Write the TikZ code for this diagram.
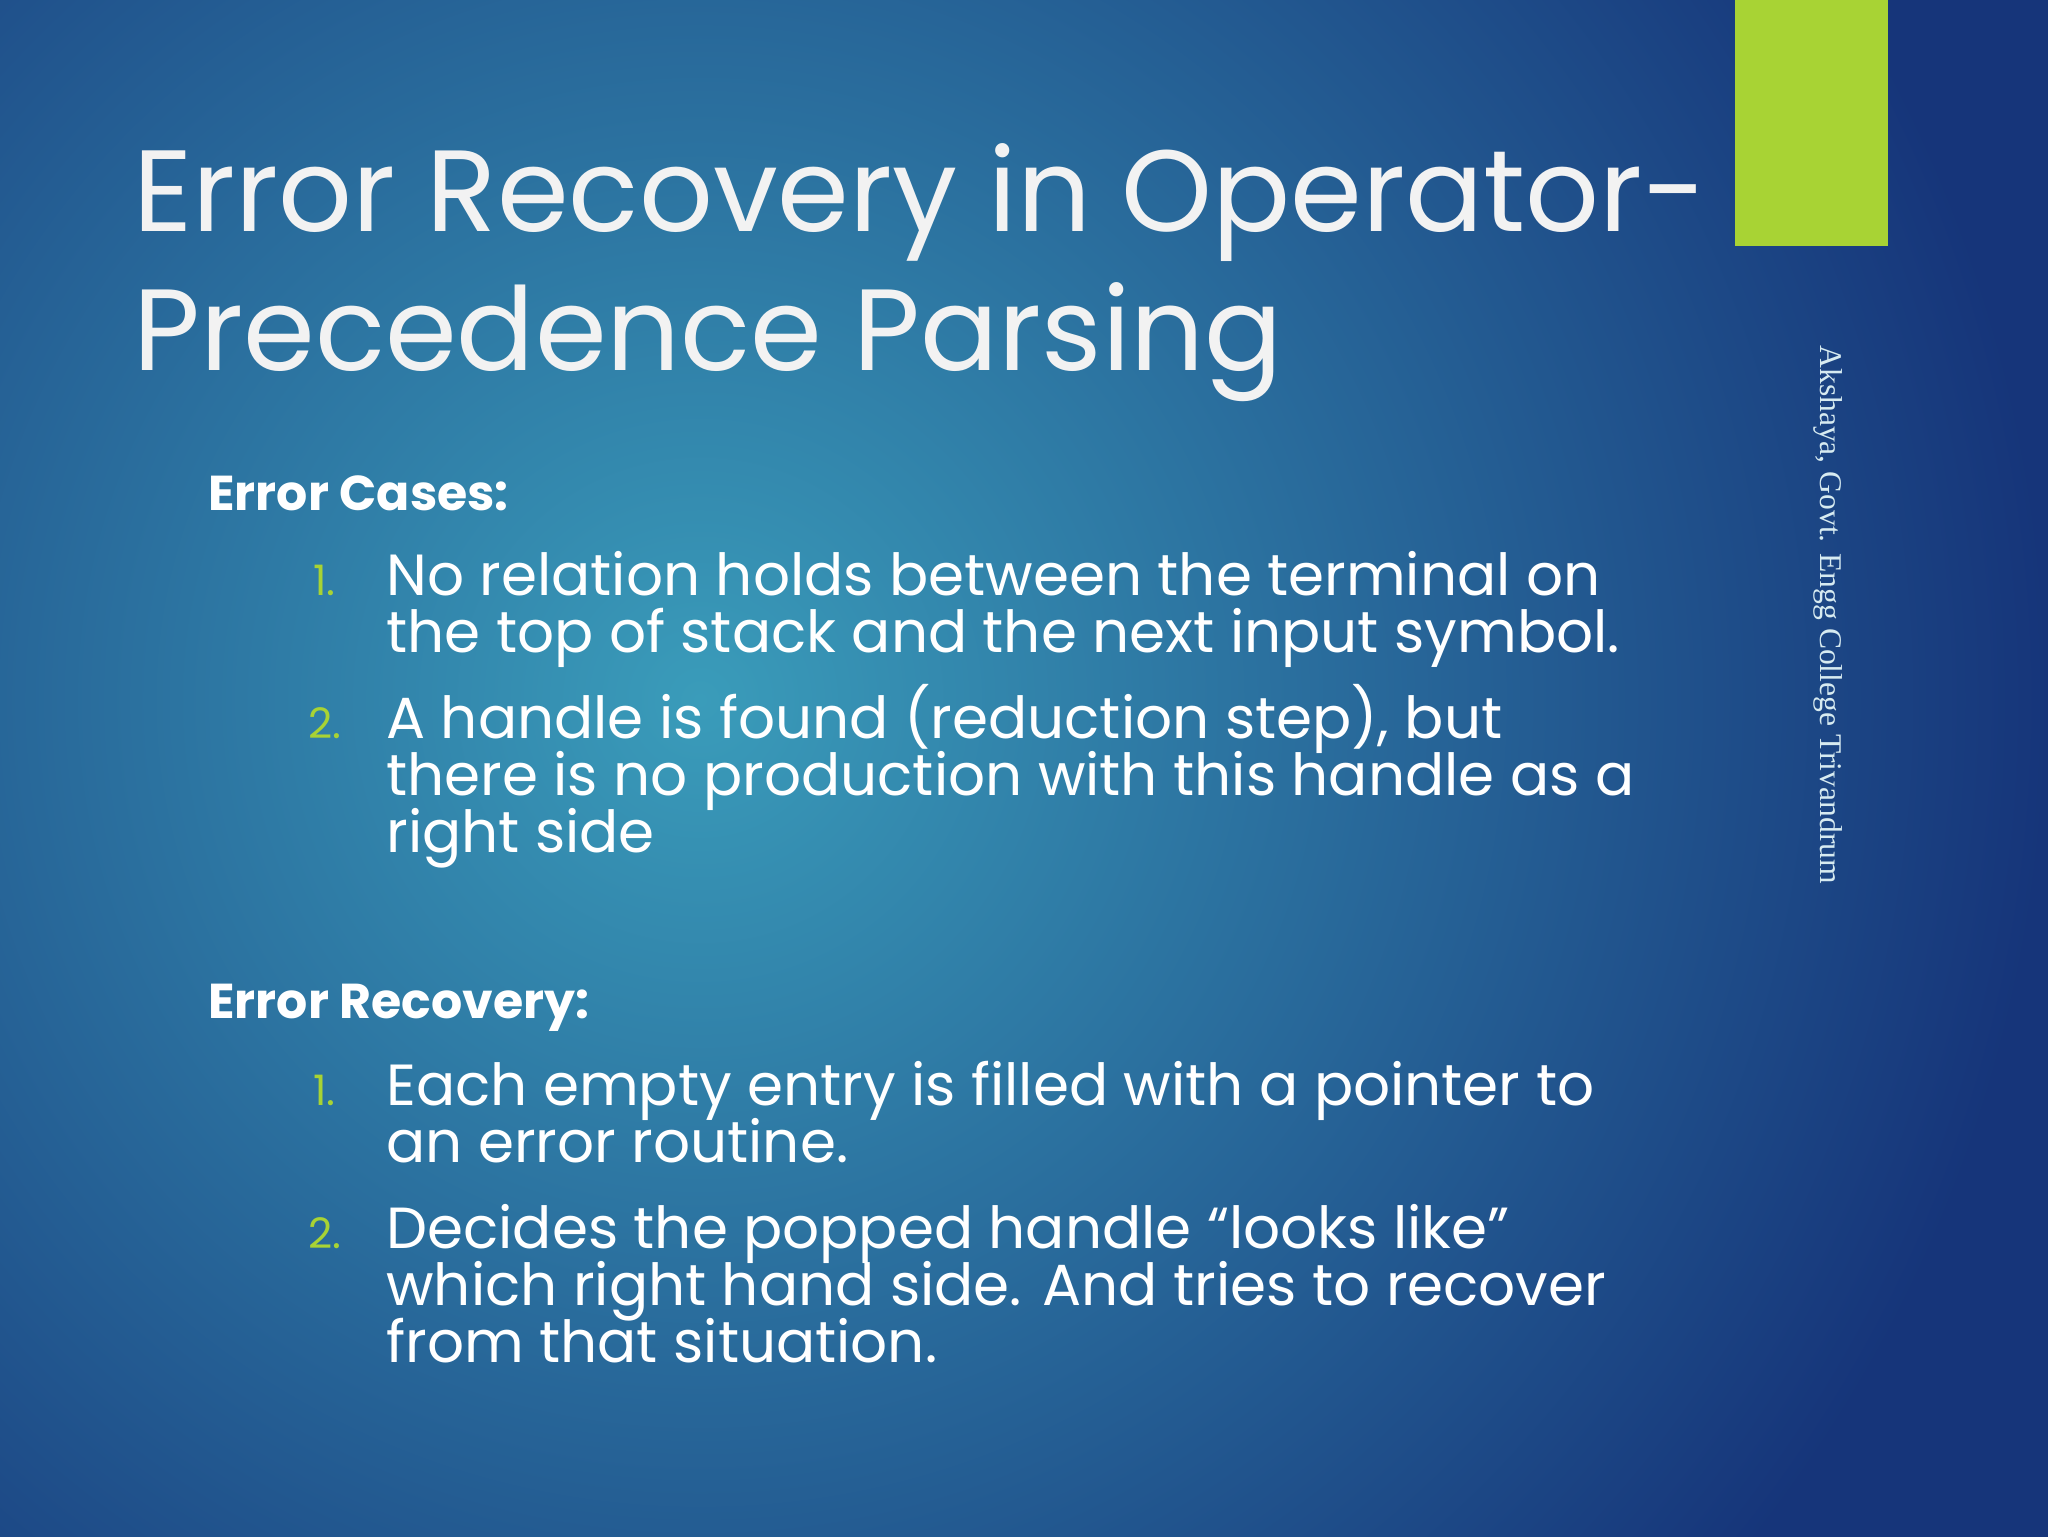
\documentclass[tikz,border=0pt]{standalone}
\usepackage{fontspec}
\setmainfont{Poppins}
\newfontfamily\serifname{Liberation Serif}
\definecolor{bgdark}{HTML}{16357A}
\definecolor{bgmid}{HTML}{3A9CBA}
\definecolor{accent}{HTML}{A8D334}
\definecolor{txt}{HTML}{F2F2F2}
\begin{document}
\begin{tikzpicture}[x=0.5pt,y=-0.5pt,
  ttl/.style={anchor=base west,inner sep=0pt,text=txt,font=\fontsize{57.8}{62}\selectfont},
  hdr/.style={anchor=base west,inner sep=0pt,text=white,font=\fontsize{24.5}{28}\selectfont\bfseries},
  body/.style={anchor=base west,inner sep=0pt,text=white,font=\fontsize{29}{30}\selectfont},
  num/.style={anchor=base west,inner sep=0pt,text=accent,font=\fontsize{21}{24}\selectfont}]
\useasboundingbox (0,0) rectangle (2048,1536);
\begin{scope}
\clip (0,0) rectangle (2048,1536);
\fill[bgdark] (-10,-10) rectangle (2060,1546);
\shade[inner color=bgmid,outer color=bgdark] (700,700) circle (1350);
\end{scope}
\node[fill=accent,minimum width=76.5pt,minimum height=123pt,inner sep=0pt,anchor=north west] (bar) at (1735,0) {};
\node[rotate=-90,anchor=north west,inner sep=0pt,text=white!80!bgmid,font=\serifname\fontsize{15.8}{18}\selectfont] (auth) at (1843,345) {Akshaya, Govt. Engg College Trivandrum};
\node[ttl] (t1) at (133,231) {Error Recovery in Operator-};
\node[ttl] (t2) at (133,370) {Precedence Parsing};
\node[hdr] (h1) at (208,510) {Error Cases:};
\node[num] (n11) at (313,595) {1.};
\node[body] (a1) at (386,595) {No relation holds between the terminal on};
\node[body] (a2) at (386,652) {the top of stack and the next input symbol.};
\node[num] (n12) at (308,738) {2.};
\node[body] (b1) at (386,738) {A handle is found (reduction step), but};
\node[body] (b2) at (386,795) {there is no production with this handle as a};
\node[body] (b3) at (386,852) {right side};
\node[hdr] (h2) at (208,1018) {Error Recovery:};
\node[num] (n21) at (313,1105) {1.};
\node[body] (c1) at (386,1105) {Each empty entry is filled with a pointer to};
\node[body] (c2) at (386,1162) {an error routine.};
\node[num] (n22) at (308,1248) {2.};
\node[body] (d1) at (386,1248) {Decides the popped handle “looks like”};
\node[body] (d2) at (386,1305) {which right hand side. And tries to recover};
\node[body] (d3) at (386,1362) {from that situation.};
\end{tikzpicture}
\end{document}
